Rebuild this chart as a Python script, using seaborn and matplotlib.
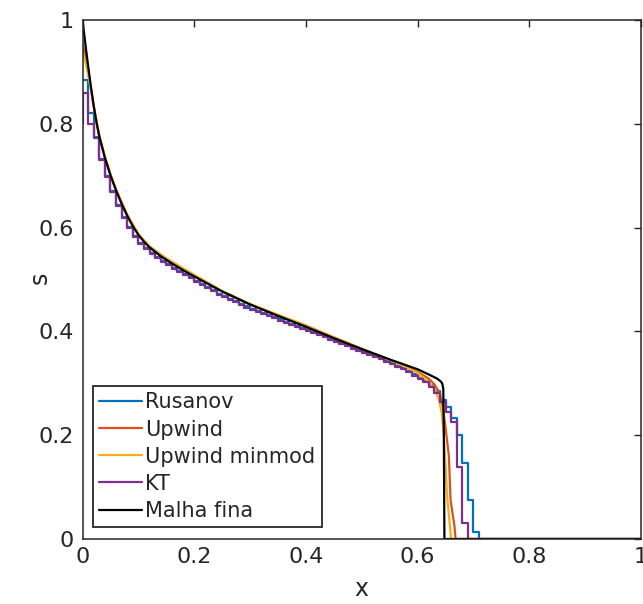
import numpy as np
import pandas as pd
import matplotlib
matplotlib.use("Agg")
import matplotlib.pyplot as plt
import seaborn as sns

# ---------------- data ----------------
# cell edges of the coarse grid (dx = 0.01)
rus_edges = np.round(np.arange(0.0, 0.72, 0.01), 2)
rus_s = [0.884, 0.820, 0.775, 0.733, 0.699, 0.670, 0.644, 0.621, 0.601, 0.584,
         0.571, 0.560, 0.551, 0.543, 0.536, 0.529, 0.523, 0.517, 0.510, 0.504,
         0.497, 0.491, 0.485, 0.479, 0.473, 0.468, 0.463, 0.458, 0.453, 0.448,
         0.444, 0.439, 0.435, 0.431, 0.427, 0.423, 0.419, 0.415, 0.411, 0.407,
         0.403, 0.399, 0.395, 0.391, 0.386, 0.381, 0.377, 0.373, 0.369, 0.364,
         0.360, 0.356, 0.352, 0.348, 0.343, 0.339, 0.334, 0.329, 0.323, 0.317,
         0.311, 0.304, 0.296, 0.285, 0.268, 0.254, 0.2325, 0.200, 0.147, 0.075,
         0.014, 0.0]

kt_edges = np.round(np.arange(0.0, 0.70, 0.01), 2)
kt_s = [0.859, 0.800, 0.772, 0.731, 0.697, 0.668, 0.642, 0.619, 0.599, 0.582,
        0.569, 0.558, 0.549, 0.541, 0.534, 0.527, 0.521, 0.515, 0.508, 0.502,
        0.495, 0.489, 0.483, 0.477, 0.471, 0.466, 0.461, 0.456, 0.451, 0.446,
        0.442, 0.437, 0.433, 0.429, 0.425, 0.421, 0.417, 0.413, 0.409, 0.405,
        0.401, 0.397, 0.393, 0.389, 0.384, 0.379, 0.375, 0.371, 0.367, 0.362,
        0.358, 0.354, 0.350, 0.346, 0.341, 0.337, 0.332, 0.327, 0.321, 0.315,
        0.309, 0.302, 0.293, 0.281, 0.264, 0.245, 0.225, 0.139, 0.030, 0.0]
kt_start_s = 0.800

up_x = [0.0, 0.005, 0.01, 0.015, 0.02, 0.03, 0.04, 0.05, 0.06, 0.08, 0.10, 0.12,
        0.15, 0.20, 0.25, 0.30, 0.35, 0.40, 0.45, 0.50, 0.55, 0.58, 0.60, 0.62,
        0.63, 0.64, 0.645, 0.650, 0.656, 0.659, 0.666, 0.668, 1.0]
up_s = [0.955, 0.930, 0.900, 0.868, 0.834, 0.777, 0.736, 0.702, 0.673, 0.624, 0.587, 0.563,
        0.540, 0.508, 0.477, 0.452, 0.431, 0.411, 0.388, 0.366, 0.345, 0.332, 0.322, 0.309,
        0.298, 0.280, 0.255, 0.215, 0.160, 0.075, 0.025, 0.0, 0.0]

mm_x = [0.0, 0.005, 0.01, 0.015, 0.02, 0.03, 0.04, 0.05, 0.06, 0.08, 0.10, 0.12,
        0.15, 0.20, 0.25, 0.30, 0.35, 0.40, 0.45, 0.50, 0.55, 0.58, 0.60, 0.62,
        0.63, 0.637, 0.643, 0.647, 0.650, 0.653, 0.657, 0.660, 1.0]
mm_s = [0.940, 0.920, 0.895, 0.866, 0.834, 0.777, 0.737, 0.703, 0.674, 0.625, 0.588, 0.564,
        0.541, 0.509, 0.478, 0.453, 0.432, 0.412, 0.389, 0.367, 0.345, 0.331, 0.320, 0.303,
        0.290, 0.272, 0.245, 0.200, 0.140, 0.080, 0.035, 0.0, 0.0]

fine_x = [0.0, 0.005, 0.01, 0.015, 0.02, 0.025, 0.03, 0.04, 0.05, 0.06, 0.07, 0.08,
          0.09, 0.10, 0.11, 0.12, 0.14, 0.16, 0.18, 0.20, 0.25, 0.30, 0.35, 0.40,
          0.45, 0.50, 0.55, 0.60, 0.62, 0.635, 0.641, 0.644, 0.646, 0.647, 0.648, 1.0]
fine_s = [1.000, 0.955, 0.912, 0.872, 0.835, 0.803, 0.776, 0.735, 0.701, 0.672, 0.646, 0.623,
          0.603, 0.586, 0.573, 0.562, 0.545, 0.531, 0.518, 0.506, 0.477, 0.452, 0.430, 0.409,
          0.387, 0.366, 0.346, 0.327, 0.317, 0.309, 0.304, 0.300, 0.290, 0.200, 0.0, 0.0]

labels = ["Rusanov", "Upwind", "Upwind minmod", "KT", "Malha fina"]
colors = ["#0072BD", "#D95319", "#EDB120", "#7E2F8E", "#000000"]
ticks = [0, 0.2, 0.4, 0.6, 0.8, 1]
tick_labels = ["0", "0.2", "0.4", "0.6", "0.8", "1"]

# ---------------- figure ----------------
sns.set_theme(style="white")
plt.rcParams["font.family"] = ["DejaVu Sans"]
ink = "#262626"

fig = plt.figure(figsize=(6.43, 6.04), dpi=100)
ax = fig.add_axes([82.5 / 643, (604 - 539) / 604, 558.5 / 643, 519 / 604])

lw = 1.6
# Rusanov (stairs)
rx = list(rus_edges) + [1.0]
ry = list(rus_s) + [0.0]
sns.lineplot(x=rx, y=ry, ax=ax, color=colors[0], lw=lw, label=labels[0],
             drawstyle="steps-post", estimator=None, sort=False)
# Upwind
sns.lineplot(x=up_x, y=up_s, ax=ax, color=colors[1], lw=lw, label=labels[1],
             estimator=None, sort=False)
# Upwind minmod
sns.lineplot(x=mm_x, y=mm_s, ax=ax, color=colors[2], lw=lw, label=labels[2],
             estimator=None, sort=False)
# KT (stairs)
kx = [0.0] + list(kt_edges) + [1.0]
ky = [kt_start_s] + list(kt_s) + [0.0]
sns.lineplot(x=kx, y=ky, ax=ax, color=colors[3], lw=lw, label=labels[3],
             drawstyle="steps-post", estimator=None, sort=False)
# Malha fina
sns.lineplot(x=fine_x, y=fine_s, ax=ax, color=colors[4], lw=lw, label=labels[4],
             estimator=None, sort=False)

ax.set_xlim(0, 1)
ax.set_ylim(0, 1)
ax.set_xticks(ticks)
ax.set_xticklabels(tick_labels)
ax.set_yticks(ticks)
ax.set_yticklabels(tick_labels)
ax.set_xlabel("x", fontsize=17, color=ink, va="baseline")
ax.set_ylabel("s", fontsize=17, color=ink)
ax.xaxis.set_label_coords(0.5, (539 - 596.5) / 519)
ax.yaxis.set_label_coords(-0.055, 0.503)

for sp in ax.spines.values():
    sp.set_visible(True)
    sp.set_color(ink)
    sp.set_linewidth(1.1)
ax.tick_params(axis="both", which="major", direction="in", length=5, width=1.0,
               colors=ink, labelsize=16, top=True, right=True, pad=6)
ax.grid(False)

leg = ax.legend(loc="lower left", bbox_to_anchor=(0.019, 0.023), borderaxespad=0,
                fontsize=15, frameon=True, fancybox=False, framealpha=1,
                edgecolor=ink, labelspacing=0.34, handlelength=2.05,
                handletextpad=0.15, borderpad=0.3)
leg.get_frame().set_linewidth(1.3)
for t in leg.get_texts():
    t.set_color(ink)

fig.savefig("out.png", dpi=100)
